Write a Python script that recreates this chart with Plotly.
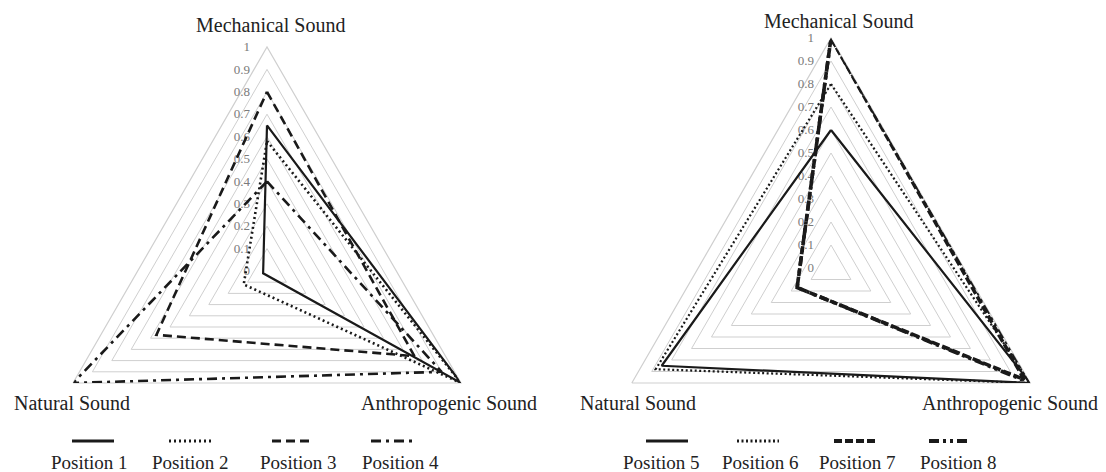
import plotly.graph_objects as go

# ---------------- data ----------------
categories = ["Mechanical Sound", "Anthropogenic Sound", "Natural Sound"]

left_names = ["Position 1", "Position 2", "Position 3", "Position 4"]
pos1 = [0.65, 1.00, 0.02]
pos2 = [0.58, 1.00, 0.12]
pos3 = [0.80, 0.76, 0.57]
pos4 = [0.40, 0.90, 1.00]

right_names = ["Position 5", "Position 6", "Position 7", "Position 8"]
pos5 = [0.60, 1.00, 0.85]
pos6 = [0.80, 1.00, 0.88]
pos7 = [1.00, 0.97, 0.17]
pos8 = [1.00, 1.00, 0.17]

radial_ticks = [0, 0.1, 0.2, 0.3, 0.4, 0.5, 0.6, 0.7, 0.8, 0.9, 1]
radial_tick_text = ["0", "0.1", "0.2", "0.3", "0.4", "0.5", "0.6", "0.7", "0.8", "0.9", "1"]

# ---------------- styles ----------------
FONT = "Liberation Serif"
INK = "#1a1a1a"
TXT = "#222222"
GRID = "#cfcfcf"

left_styles = [
    dict(dash="solid", width=2.2),
    dict(dash="2px,3px", width=2.6),
    dict(dash="9px,5px", width=2.6),
    dict(dash="10px,5px,3px,5px", width=2.6),
]
right_styles = [
    dict(dash="solid", width=2.2),
    dict(dash="2px,2.5px", width=2.2),
    dict(dash="8px,3px", width=3.6),
    dict(dash="10px,4px,3px,4px,3px,4px", width=3.6),
]

# The page body has an 8px margin; positions below are given in window pixels.
WIN_W, WIN_H, OFF = 1106, 472, 8
W = WIN_W - OFF
H = 510  # figure taller than the window so the triangles can use their full size


def px(x):
    return (x - OFF) / W


def py(y):
    return (OFF + H - y) / H


fig = go.Figure()


def add_series(values_list, names, styles, subplot):
    for vals, name, st in zip(values_list, names, styles):
        fig.add_trace(go.Scatterpolar(
            r=list(vals) + [vals[0]],
            theta=categories + [categories[0]],
            mode="lines",
            name=name,
            subplot=subplot,
            showlegend=False,
            line=dict(color=INK, width=st["width"], dash=st["dash"]),
            hoverinfo="skip",
        ))


add_series([pos1, pos2, pos3, pos4], left_names, left_styles, "polar")
add_series([pos5, pos6, pos7, pos8], right_names, right_styles, "polar2")


def polar_layout(cx, cy, radius):
    return dict(
        domain=dict(x=[px(cx - radius), px(cx + radius)],
                    y=[max(0.0, py(cy + radius)), min(1.0, py(cy - radius))]),
        bgcolor="white",
        gridshape="linear",
        radialaxis=dict(
            range=[0, 1],
            tickvals=radial_ticks,
            ticktext=radial_tick_text,
            angle=90,
            tickangle=90,
            side="counterclockwise",
            showline=False,
            ticks="outside",
            ticklen=12,
            tickcolor="rgba(0,0,0,0)",
            gridcolor=GRID,
            gridwidth=1.2,
            tickfont=dict(family=FONT, size=13, color="#7a7a7a"),
            layer="below traces",
        ),
        angularaxis=dict(
            categoryorder="array",
            categoryarray=categories,
            rotation=90,
            direction="clockwise",
            showgrid=False,
            showline=True,
            linecolor=GRID,
            linewidth=1.2,
            ticks="",
            showticklabels=False,
            layer="below traces",
        ),
    )


fig.update_layout(
    width=W, height=H,
    margin=dict(l=0, r=0, t=0, b=0),
    paper_bgcolor="white",
    plot_bgcolor="white",
    font=dict(family=FONT, color=INK),
    polar=polar_layout(267, 271, 224),
    polar2=polar_layout(831, 268, 230),
    showlegend=False,
)

shapes = []
annotations = []

# ---------------- axis (category) labels ----------------
left_cat_pos = [(270, 25), (449, 403), (72, 403)]
right_cat_pos = [(838, 21), (1010, 403), (638, 403)]
for positions in (left_cat_pos, right_cat_pos):
    for cat, (x, y) in zip(categories, positions):
        annotations.append(dict(
            text=cat, xref="paper", yref="paper",
            x=px(x), y=py(y), xanchor="center", yanchor="middle",
            showarrow=False, font=dict(family=FONT, size=20, color=TXT),
        ))

# ---------------- custom legends (glyph above label) ----------------
legend_glyph_y = 441
legend_label_y = 462
left_glyph_x = [93, 190, 293, 392]
left_label_x = [89, 190, 298, 400]
right_glyph_x = [667, 758, 855, 950]
right_label_x = [661, 760, 857, 958]
GLYPH_LEN = 42

for names, styles, gx, lx in [
    (left_names, left_styles, left_glyph_x, left_label_x),
    (right_names, right_styles, right_glyph_x, right_label_x),
]:
    for name, st, g, l in zip(names, styles, gx, lx):
        shapes.append(dict(
            type="line", xref="paper", yref="paper",
            x0=px(g - GLYPH_LEN / 2), x1=px(g + GLYPH_LEN / 2),
            y0=py(legend_glyph_y), y1=py(legend_glyph_y),
            line=dict(color=INK, width=st["width"] + 0.6, dash=st["dash"]),
        ))
        annotations.append(dict(
            text=name, xref="paper", yref="paper",
            x=px(l), y=py(legend_label_y), xanchor="center", yanchor="middle",
            showarrow=False, font=dict(family=FONT, size=19, color=TXT),
        ))

fig.update_layout(shapes=shapes, annotations=annotations)

fig.write_html("out.html")
